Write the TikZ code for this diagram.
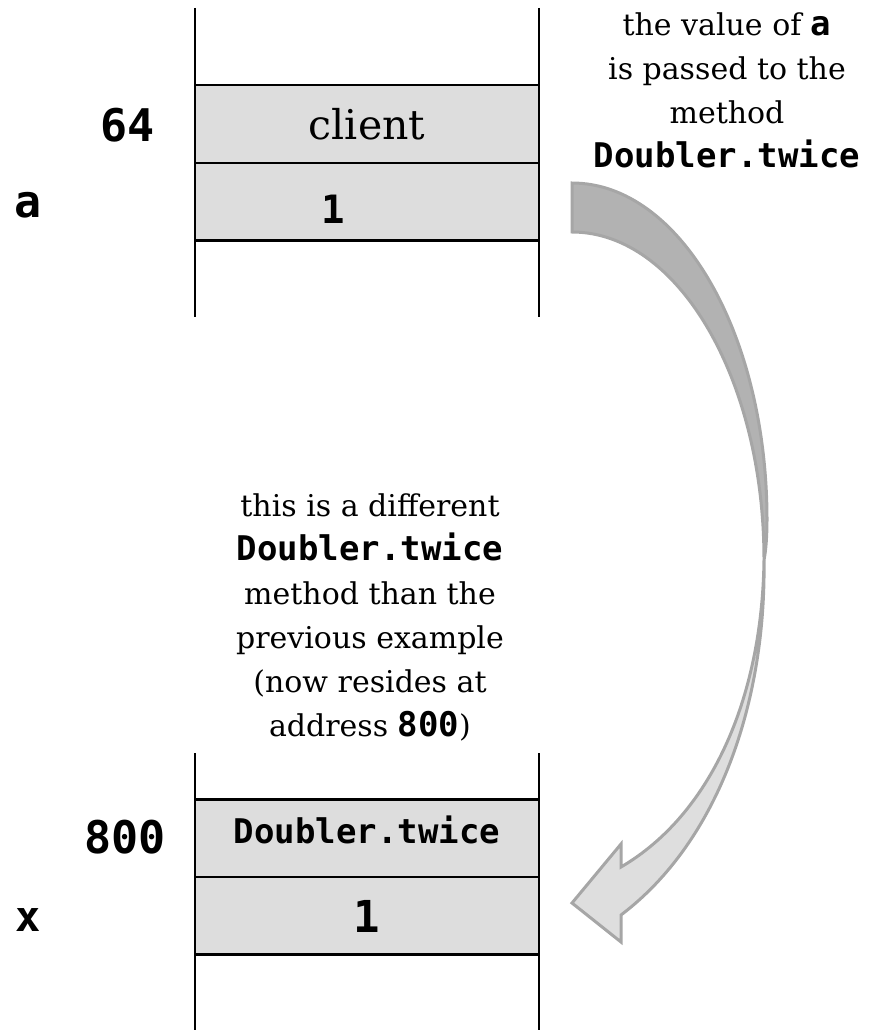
\documentclass[tikz,border=0pt]{standalone}
\usepackage{fontspec}
\setmainfont{DejaVu Serif}
\newfontfamily\codefont{DejaVu Sans Mono}
\newcommand\code[1]{{\fontsize{34}{44}\selectfont\codefont\bfseries #1}}
\definecolor{cellgray}{HTML}{DDDDDD}
\definecolor{arrowdark}{HTML}{B2B2B2}
\definecolor{arrowlight}{HTML}{DEDEDE}
\definecolor{arrowline}{HTML}{A6A6A6}
\tikzset{
  stackline/.style={line width=2.5pt, black},
  cell/.style={draw=black, line width=2.5pt, fill=cellgray, minimum width=344pt,
    minimum height=77.5pt, inner sep=0pt, anchor=center},
  addr/.style={inner sep=0pt, font=\fontsize{45}{54}\selectfont\codefont\bfseries},
  note/.style={inner sep=0pt, align=center, anchor=north, font=\fontsize{30}{44}\selectfont},
  bigarrow/.style={draw=arrowline, line width=3pt, line join=miter},
}
\begin{document}
\begin{tikzpicture}[x=1pt, y=-1pt]
\useasboundingbox (0,0) rectangle (880,1030);

% upper stack frame: caller
\draw[stackline] (195,8) -- (195,317);
\draw[stackline] (539,8) -- (539,317);
\node[cell] (client) at (367,124) {};
\node[cell] (aval) at (367,201.5) {};
\node[inner sep=0pt, font=\fontsize{41}{48}\selectfont] (clienttxt) at (client) {client};
\node[inner sep=0pt, font=\fontsize{39}{48}\selectfont\codefont\bfseries] (aone) at (333,209) {1};
\node[addr] (a64) at (128,125) {64};
\node[addr] (avar) at (28,205) {a};

% lower stack frame: callee
\draw[stackline] (195,753) -- (195,1032);
\draw[stackline] (539,753) -- (539,1032);
\node[cell] (method) at (367,838) {};
\node[cell] (xval) at (367,915.5) {};
\node[inner sep=0pt, font=\fontsize{34}{44}\selectfont\codefont\bfseries] (methodtxt) at (367,830) {Doubler.twice};
\node[inner sep=0pt, font=\fontsize{44}{52}\selectfont\codefont\bfseries] (xone) at (367,916) {1};
\node[addr] (a800) at (125,837) {800};
\node[addr, font=\fontsize{42}{50}\selectfont\codefont\bfseries] (xvar) at (28,920) {x};

% annotations
\node[note] (passnote) at (727,13) {the value of \code{a}\\ is passed to the\\ method\\ \code{Doubler.twice}};
\node[note] (diffnote) at (370,493) {this is a different\\ \code{Doubler.twice}\\ method than the\\ previous example\\ (now resides at\\ address \code{800})};

% curved call arrow: front band with head, then back band
\draw[bigarrow, fill=arrowlight]
  (764,560) .. controls (766,700) and (720,840) .. (621,915)
  -- (621,942) -- (572,903) -- (621,844) -- (621,867)
  .. controls (710,815) and (762,700) .. (764,560) -- cycle;
\draw[bigarrow, fill=arrowdark]
  (572,183) .. controls (680,183) and (767,334) .. (767,520)
  .. controls (767,535) and (766,550) .. (764,560)
  .. controls (764,379) and (678,232) .. (572,232) -- cycle;
\end{tikzpicture}
\end{document}
